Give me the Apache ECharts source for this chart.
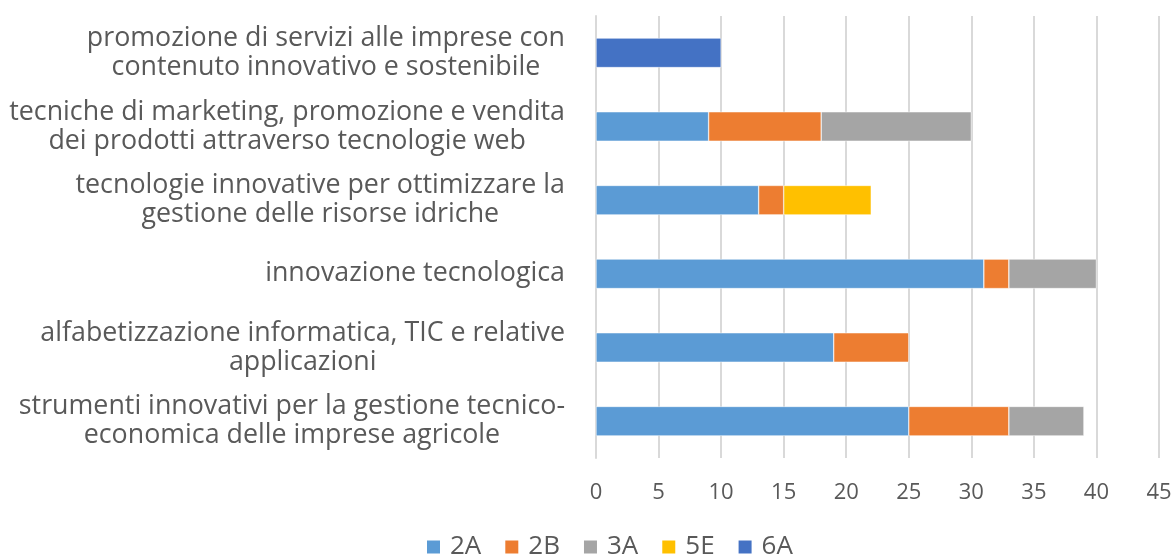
<!DOCTYPE html>
<html>
<head>
<meta charset="utf-8">
<script src="https://cdn.jsdelivr.net/npm/echarts@6/dist/echarts.min.js"></script>
<style>html,body{margin:0;padding:0;background:#fff}#c{width:1176px;height:554px}</style>
</head>
<body>
<div id="c"></div>
<script>
const categories = [
  "strumenti innovativi per la gestione tecnico-\neconomica delle imprese agricole",
  "alfabetizzazione informatica, TIC e relative\napplicazioni",
  "innovazione tecnologica",
  "tecnologie innovative per ottimizzare la\ngestione delle risorse idriche",
  "tecniche di marketing, promozione e vendita\ndei prodotti attraverso tecnologie web",
  "promozione di servizi alle imprese con\ncontenuto innovativo e sostenibile"
];
const s2A = [25, 19, 31, 13, 9, null];
const s2B = [8, 6, 2, 2, 9, null];
const s3A = [6, null, 7, null, 12, null];
const s5E = [null, null, null, 7, null, null];
const s6A = [null, null, null, null, null, 10];
const seriesNames = ["2A", "2B", "3A", "5E", "6A"];
const colors = ["#5B9BD5", "#ED7D31", "#A5A5A5", "#FFC000", "#4472C4"];
const xTicks = { min: 0, max: 45, interval: 5 };

const dataSets = [s2A, s2B, s3A, s5E, s6A];
const chart = echarts.init(document.getElementById('c'));
const font = "'Open Sans', sans-serif";
chart.setOption({
  animation: false,
  color: colors,
  textStyle: { fontFamily: font },
  grid: { left: 596, right: 17, top: 16, bottom: 96, containLabel: false },
  legend: {
    top: 534, left: 425, padding: 0,
    itemWidth: 15, itemHeight: 15, itemGap: 22,
    icon: 'rect',
    textStyle: { fontSize: 26, lineHeight: 26, color: '#595959', fontFamily: font, padding: [0, 0, 0, 4] },
    data: seriesNames
  },
  xAxis: {
    type: 'value', min: xTicks.min, max: xTicks.max, interval: xTicks.interval,
    axisLine: { show: false }, axisTick: { show: false },
    splitLine: { show: true, lineStyle: { color: '#D9D9D9', width: 2 } },
    axisLabel: { fontSize: 22, color: '#595959', margin: 24, fontFamily: font }
  },
  yAxis: {
    type: 'category', data: categories,
    axisLine: { show: true, lineStyle: { color: '#D9D9D9', width: 2 } },
    axisTick: { show: false },
    axisLabel: {
      color: '#595959', margin: 31, align: 'right', fontFamily: font,
      formatter: v => v.split('\n').map(l => '{c|' + l + '}').join('\n'),
      rich: { c: { fontSize: 26.8, lineHeight: 29, align: 'center', color: '#595959', fontFamily: font } }
    }
  },
  series: dataSets.map((d, i) => ({
    name: seriesNames[i], type: 'bar', stack: 'total', data: d,
    barWidth: '40%',
    itemStyle: { color: colors[i], borderColor: '#fff', borderWidth: 0.5 }
  }))
});
</script>
</body>
</html>
